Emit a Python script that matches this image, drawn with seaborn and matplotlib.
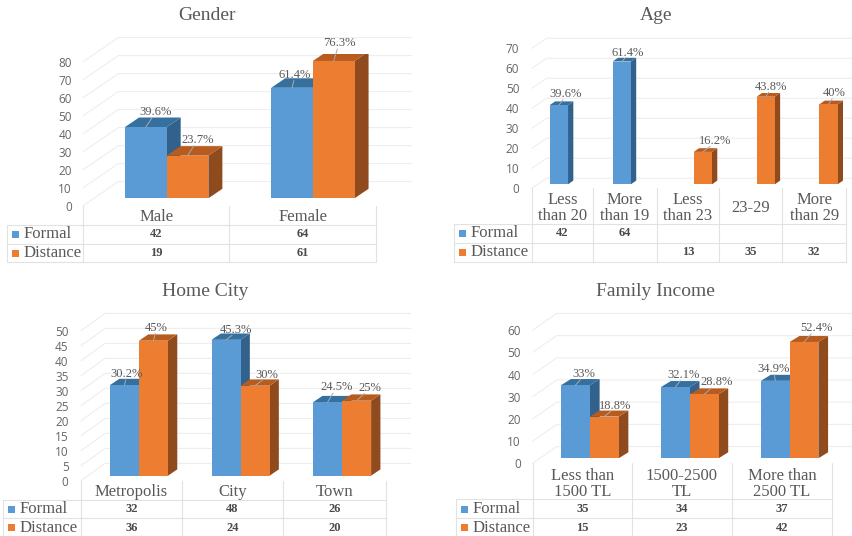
import matplotlib
matplotlib.use('Agg')
import matplotlib.pyplot as plt
from matplotlib.patches import Polygon, Rectangle
from matplotlib.transforms import Affine2D
import seaborn as sns
import pandas as pd

sns.set_theme(style="white")
plt.rcParams['font.family'] = ['Liberation Serif', 'DejaVu Serif']

W, H = 853, 536
groups = ['Formal', 'Distance']
colors = {'Formal': '#5B9BD5', 'Distance': '#ED7D31'}
side_colors = {'Formal': '#32628C', 'Distance': '#8F4B1D'}
top_colors = {'Formal': '#36709F', 'Distance': '#B75B1E'}
grid_col = '#EEEEEE'
table_col = '#E2E2E2'
text_col = '#595959'

# Data: percentages on the bars, counts in the tables
gender_cats = ['Male', 'Female']
gender_formal = [39.6, 61.4]
gender_distance = [23.7, 76.3]
gender_formal_n = [42, 64]
gender_distance_n = [19, 61]
gender_ticks = [0, 10, 20, 30, 40, 50, 60, 70, 80]

age_cats = ['Less\nthan 20', 'More\nthan 19', 'Less\nthan 23', '23-29', 'More\nthan 29']
age_formal = [39.6, 61.4, None, None, None]
age_distance = [None, None, 16.2, 43.8, 40]
age_formal_n = [42, 64, None, None, None]
age_distance_n = [None, None, 13, 35, 32]
age_ticks = [0, 10, 20, 30, 40, 50, 60, 70]

city_cats = ['Metropolis', 'City', 'Town']
city_formal = [30.2, 45.3, 24.5]
city_distance = [45, 30, 25]
city_formal_n = [32, 48, 26]
city_distance_n = [36, 24, 20]
city_ticks = [0, 5, 10, 15, 20, 25, 30, 35, 40, 45, 50]

income_cats = ['Less than\n1500 TL', '1500-2500\nTL', 'More than\n2500 TL']
income_formal = [33, 32.1, 34.9]
income_distance = [18.8, 28.8, 52.4]
income_formal_n = [35, 34, 37]
income_distance_n = [15, 23, 42]
income_ticks = [0, 10, 20, 30, 40, 50, 60]

# Layout of each panel, in pixels of the reference
panels = [
    dict(title='Gender', title_xy=(206.7, 15), cats=gender_cats, formal=gender_formal,
         distance=gender_distance, formal_n=gender_formal_n, distance_n=gender_distance_n,
         ticks=gender_ticks, table_x=[83.3, 229.4, 375.7], shift=10.3, base=198.3, scale=1.8,
         depth=(14, 9.5), floor=7.3, wall=(35, 24), wall_end=411.7, width=0.57, pad=21.9,
         table_left=6.7, rows=[206, 225, 243.7, 262.3], row_y=[234.3, 253.3], cat_y=217,
         label_off={'Formal': [(10, 15), (3, 13)], 'Distance': [(10.6, 16), (6, 18)]}),
    dict(title='Age', title_xy=(656, 15), cats=age_cats, formal=age_formal,
         distance=age_distance, formal_n=age_formal_n, distance_n=age_distance_n,
         ticks=age_ticks, table_x=[531.7, 593.3, 656.7, 719.3, 782.3, 846], shift=4.9, base=184.3, scale=2.0,
         depth=(5.3, 3.7), floor=4, wall=(15, 10), wall_end=853, width=0.58, pad=17.3,
         table_left=454, rows=[188, 224, 243.3, 261.7], row_y=[233.3, 252.3], cat_y=208,
         label_off={'Formal': [(7, 11), (6, 9)], 'Distance': [(12, 11), (5, 10), (6, 11)]}),
    dict(title='Home City', title_xy=(205, 291.7), cats=city_cats, formal=city_formal,
         distance=city_distance, formal_n=city_formal_n, distance_n=city_distance_n,
         ticks=city_ticks, table_x=[81, 181.7, 283.3, 385.7], shift=7.2, base=475.7, scale=3.0,
         depth=(9.3, 6.3), floor=5, wall=(24, 17.3), wall_end=410.7, width=0.571, pad=19.7,
         table_left=3.3, rows=[480.7, 500, 518.3, 536], row_y=[509, 527.7], cat_y=492.3,
         label_off={'Formal': [(2, 11), (10, 10), (9, 15)], 'Distance': [(3, 13), (12, 11), (13, 13)]}),
    dict(title='Family Income', title_xy=(655, 291.7), cats=income_cats, formal=income_formal,
         distance=income_distance, formal_n=income_formal_n, distance_n=income_distance_n,
         ticks=income_ticks, table_x=[532.7, 632, 731.7, 832.3], shift=7.3, base=458.3, scale=2.22,
         depth=(9.7, 6), floor=5, wall=(24, 16.7), wall_end=853, width=0.575, pad=19.3,
         table_left=456, rows=[463.3, 499.3, 518.3, 536], row_y=[509, 527.7], cat_y=484,
         label_off={'Formal': [(8, 11), (8, 12), (-1.5, 12)], 'Distance': [(11, 11), (12, 12), (12, 14)]}),
]

fig = plt.figure(figsize=(W / 100, H / 100), dpi=100, facecolor='white')

# Pixel overlay for walls and tables, sits under the bars
bg = fig.add_axes([0, 0, 1, 1], zorder=0)
bg.set_xlim(0, W)
bg.set_ylim(H, 0)
bg.axis('off')


def draw_panel(p):
    left = p['table_x'][0] + p['shift']
    right = p['table_x'][-1] + p['shift']
    ymax = p['ticks'][-1]
    height = ymax * p['scale']
    ax = fig.add_axes([left / W, 1 - p['base'] / H, (right - left) / W, height / H], zorder=2)
    ax.patch.set_alpha(0)

    df = pd.DataFrame({
        'cat': p['cats'] * 2,
        'group': ['Formal'] * len(p['cats']) + ['Distance'] * len(p['cats']),
        'value': list(p['formal']) + list(p['distance']),
    }).dropna()
    sns.barplot(data=df, x='cat', y='value', hue='group', order=p['cats'], hue_order=groups,
                palette=colors, width=p['width'], gap=0, dodge=True, saturation=1, linewidth=0,
                legend=False, ax=ax)

    ax.set_xlim(-0.5, len(p['cats']) - 0.5)
    ax.set_ylim(0, ymax)
    ax.set_xlabel('')
    ax.set_ylabel('')
    ax.set_xticks([])
    ax.set_yticks(p['ticks'])
    ax.tick_params(axis='y', length=0, pad=p['pad'] * 0.72, labelsize=8.5, labelcolor='#666666')
    for lab in ax.get_yticklabels():
        lab.set_fontfamily('Open Sans')
        lab.set_transform(lab.get_transform() + Affine2D().translate(0, -p['floor']))
    sns.despine(ax=ax, left=True, bottom=True)

    # Back wall and left wall gridlines
    x_front = p['table_x'][0]
    wall_dx, wall_dy = p['wall']
    for v in p['ticks']:
        y_base = H - ax.transData.transform((0, v))[1]
        y_front = y_base + p['floor']
        y_back = y_front - wall_dy
        bg.plot([x_front, x_front + wall_dx, p['wall_end']], [y_front, y_back, y_back],
                color=grid_col, lw=0.8, clip_on=False)

    # 3D faces and value labels, built from the bars seaborn drew
    dx, dy = p['depth']
    to_px = ax.transData
    for group, container in zip(groups, ax.containers):
        bars = [b for b in container if b.get_height() == b.get_height() and b.get_height() > 0]
        for bar, off in zip(bars, p['label_off'][group]):
            (x0, y0) = to_px.transform((bar.get_x(), 0))
            (x1, y1) = to_px.transform((bar.get_x() + bar.get_width(), bar.get_height()))
            z = 3 + bar.get_x()
            bar.set_zorder(z + 0.3)
            side = Polygon([(x1, y0), (x1 + dx, y0 + dy), (x1 + dx, y1 + dy), (x1, y1)],
                           closed=True, transform=None, facecolor=side_colors[group],
                           edgecolor='none', zorder=z)
            top = Polygon([(x0, y1), (x1, y1), (x1 + dx, y1 + dy), (x0 + dx, y1 + dy)],
                          closed=True, transform=None, facecolor=top_colors[group],
                          edgecolor='none', zorder=z)
            ax.add_patch(side)
            ax.add_patch(top)

            xc = (x0 + x1) / 2
            ax.plot([xc, xc + off[0] * 0.6], [y1, y1 + (off[1] - 5) * 0.9], transform=None,
                    color='#A9A9A9', lw=0.7, zorder=20, clip_on=False)
            ax.annotate(f'{bar.get_height():g}%', xy=(xc, y1), xycoords='figure pixels',
                        xytext=off, textcoords='offset pixels', ha='center', va='center',
                        fontsize=9, color=text_col, zorder=25, annotation_clip=False)

    # Title
    bg.text(*p['title_xy'], p['title'], ha='center', va='center', fontsize=14, color=text_col)

    # Data table under the bars
    tx = p['table_x']
    rows = p['rows']
    for y in rows[1:]:
        bg.plot([p['table_left'], tx[-1]], [y, y], color=table_col, lw=0.8, clip_on=True)
    for x in tx:
        bg.plot([x, x], [rows[0], rows[-1]], color=table_col, lw=0.8)
    bg.plot([p['table_left'], p['table_left']], [rows[1], rows[-1]], color=table_col, lw=0.8)

    centers = [(a + b) / 2 for a, b in zip(tx[:-1], tx[1:])]
    for xc, cat in zip(centers, p['cats']):
        bg.text(xc, p['cat_y'], cat, ha='center', va='center', fontsize=12,
                color=text_col, linespacing=1.0)
    for group, counts, y in zip(groups, [p['formal_n'], p['distance_n']], p['row_y']):
        bg.add_patch(Rectangle((p['table_left'] + 5, y - 3.3), 7, 7, facecolor=colors[group],
                               edgecolor='none'))
        bg.text(p['table_left'] + 16.7, y, group, ha='left', va='center', fontsize=12, color=text_col)
        for xc, n in zip(centers, counts):
            if n is not None:
                bg.text(xc, y, str(n), ha='center', va='center', fontsize=9,
                        color='#4A4A4A', fontweight='bold')


for p in panels:
    draw_panel(p)

fig.savefig('out.png', dpi=100)
